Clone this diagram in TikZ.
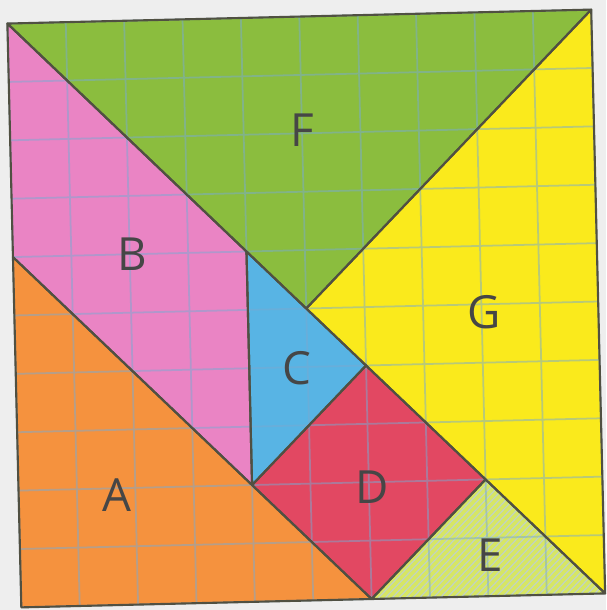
\documentclass[tikz,border=0pt]{standalone}
\usepackage{fontspec}
\setsansfont{Open Sans}
\definecolor{paper}{RGB}{238,238,238}
\definecolor{tanF}{RGB}{139,189,62}
\definecolor{tanB}{RGB}{234,132,196}
\definecolor{tanA}{RGB}{245,146,62}
\definecolor{tanC}{RGB}{88,180,228}
\definecolor{tanG}{RGB}{250,234,28}
\definecolor{tanD}{RGB}{226,72,98}
\definecolor{tanE}{RGB}{192,210,200}
\definecolor{tanEstripe}{RGB}{214,230,100}
\definecolor{edge}{RGB}{80,80,66}
\definecolor{gridblue}{RGB}{120,170,210}
\definecolor{labelgray}{RGB}{70,70,70}
\tikzset{
  piece/.style={draw=edge, line width=0.6pt, line join=round},
  gridline/.style={gridblue, line width=0.5pt, opacity=0.5},
  tanlabel/.style={font=\sffamily\fontsize{13}{13}\selectfont, text=labelgray}
}
\begin{document}
\begin{tikzpicture}
    \useasboundingbox[fill=paper] (0,0) rectangle (6.06,6.10);
    \begin{scope}[shift={(3.0625,3.015)}, rotate=1.37, scale=0.584, shift={(-5,-5)}]
    % pieces
    \fill[tanF] (0,10) -- (10,10) -- (5,5) -- cycle;
    \fill[tanB] (0,10) -- (4,6) -- (4,2) -- (0,6) -- cycle;
    \fill[tanA] (0,6) -- (0,0) -- (6,0) -- cycle;
    \fill[tanC] (4,6) -- (6,4) -- (4,2) -- cycle;
    \fill[tanG] (10,10) -- (10,0) -- (8,2) -- (6,4) -- (5,5) -- cycle;
    \fill[tanD] (4,2) -- (6,4) -- (8,2) -- (6,0) -- cycle;
    \fill[tanE] (6,0) -- (8,2) -- (10,0) -- cycle;
    % stripes on E
    \begin{scope}
        \clip (6,0) -- (8,2) -- (10,0) -- cycle;
        \foreach \s in {0,0.12,...,6.2}
            \draw[tanEstripe, line width=1pt] (4+\s,0) -- (6+\s,2);
    \end{scope}
    % grid
    \draw[step=1, gridline] (0,0) grid (10,10);
    % outlines
    \draw[piece] (0,10) -- (10,10) -- (5,5) -- cycle;
    \draw[piece] (0,10) -- (4,6) -- (4,2) -- (0,6) -- cycle;
    \draw[piece] (0,6) -- (0,0) -- (6,0) -- cycle;
    \draw[piece] (4,6) -- (6,4) -- (4,2) -- cycle;
    \draw[piece] (10,10) -- (10,0) -- (8,2) -- (6,4) -- (5,5) -- cycle;
    \draw[piece] (4,2) -- (6,4) -- (8,2) -- (6,0) -- cycle;
    \draw[piece] (6,0) -- (8,2) -- (10,0) -- cycle;
    % labels
    \node[tanlabel] (lblF) at (5,8.06) {F};
    \node[tanlabel] (lblB) at (2.05,6) {B};
    \node[tanlabel] (lblG) at (8.04,4.87) {G};
    \node[tanlabel] (lblC) at (4.82,3.98) {C};
    \node[tanlabel] (lblA) at (1.68,1.88) {A};
    \node[tanlabel] (lblD) at (6.05,1.92) {D};
    \node[tanlabel] (lblE) at (8.05,0.71) {E};
    \end{scope}
\end{tikzpicture}
\end{document}
